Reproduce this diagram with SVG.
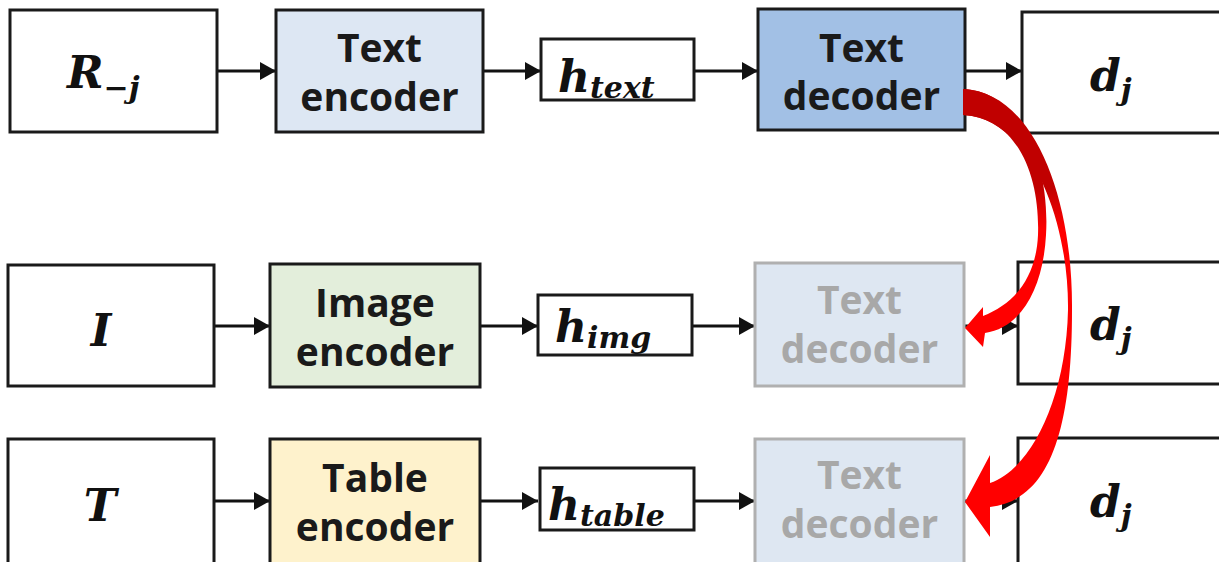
<svg xmlns="http://www.w3.org/2000/svg" width="1219" height="562" viewBox="0 0 1219 562">
<defs>
<style>
.box{stroke:#1a1a1a;stroke-width:3}
.w{fill:#ffffff}
.lbl{font-family:"Open Sans","Noto Sans",sans-serif;font-weight:700;font-size:39px;fill:#1a1a1a;text-anchor:middle}
.fade{fill:#dee7f2;stroke:#b0b0b0;stroke-width:3}
.fadet{fill:#a8a8a8}
.m{font-family:"DejaVu Serif",serif;font-weight:700;font-style:italic;font-size:44px;fill:#111}
.s{font-size:30px}
.c{stroke:#111;stroke-width:3;fill:none;marker-end:url(#ah)}
</style>
<marker id="ah" markerUnits="userSpaceOnUse" markerWidth="18" markerHeight="18" refX="16" refY="9" orient="auto">
<path d="M0,0 L16,9 L0,18 Z" fill="#111"/>
</marker>
<linearGradient id="rg" gradientUnits="userSpaceOnUse" x1="0" y1="89" x2="0" y2="560">
<stop offset="0" stop-color="#c00000"/>
<stop offset="0.21" stop-color="#c00000"/>
<stop offset="0.30" stop-color="#ff0000"/>
<stop offset="1" stop-color="#ff0000"/>
</linearGradient>
</defs>
<rect width="1219" height="562" fill="#ffffff"/>

<g id="connectors">
<line class="c" x1="217" y1="71" x2="276" y2="71"/>
<line class="c" x1="483" y1="71" x2="541" y2="71"/>
<line class="c" x1="694" y1="71" x2="758" y2="71"/>
<line class="c" x1="965" y1="71" x2="1022" y2="71"/>
<line class="c" x1="214" y1="326" x2="270" y2="326"/>
<line class="c" x1="480" y1="326" x2="538" y2="326"/>
<line class="c" x1="692" y1="326" x2="755" y2="326"/>
<line class="c" x1="964" y1="326" x2="1018" y2="326"/>
<line class="c" x1="214" y1="501" x2="270" y2="501"/>
<line class="c" x1="480" y1="501" x2="538" y2="501"/>
<line class="c" x1="694" y1="501" x2="755" y2="501"/>
<line class="c" x1="964" y1="501" x2="1018" y2="501"/>
</g>

<g id="n-r"><rect class="box w" x="10" y="10" width="207" height="122"/>
<text class="m" x="67" y="88">R<tspan class="s" dy="10">−j</tspan></text></g>
<g id="n-textenc"><rect class="box" fill="#dde7f3" x="276" y="10" width="207" height="122"/>
<text class="lbl" x="379.5" y="62">Text</text><text class="lbl" x="379.5" y="111">encoder</text></g>
<g id="n-htext"><rect class="box w" x="541" y="39" width="153" height="61"/>
<text class="m" x="558" y="92">h<tspan class="s" dy="6">text</tspan></text></g>
<g id="n-textdec"><rect class="box" fill="#a2c0e5" x="758" y="9" width="207" height="121"/>
<text class="lbl" x="861.5" y="62">Text</text><text class="lbl" x="861.5" y="110">decoder</text></g>
<g id="n-d1"><rect class="box w" x="1022" y="12" width="205" height="121"/>
<text class="m" x="1090" y="91">d<tspan class="s" dy="9">j</tspan></text></g>

<g id="n-i"><rect class="box w" x="8" y="265" width="206" height="121"/>
<text class="m" x="101" y="346" text-anchor="middle">I</text></g>
<g id="n-imgenc"><rect class="box" fill="#e3eedb" x="270" y="264" width="210" height="123"/>
<text class="lbl" x="375" y="317">Image</text><text class="lbl" x="375" y="366">encoder</text></g>
<g id="n-himg"><rect class="box w" x="538" y="295" width="154" height="60"/>
<text class="m" x="555" y="342">h<tspan class="s" dy="6">img</tspan></text></g>
<g id="n-dec2"><rect class="fade" x="755" y="263" width="209" height="123"/>
<text class="lbl fadet" x="859.5" y="314">Text</text><text class="lbl fadet" x="859.5" y="363">decoder</text></g>
<g id="n-d2"><rect class="box w" x="1018" y="262" width="209" height="122"/>
<text class="m" x="1090" y="340">d<tspan class="s" dy="9">j</tspan></text></g>

<g id="n-t"><rect class="box w" x="8" y="439" width="206" height="130"/>
<text class="m" x="100" y="521" text-anchor="middle">T</text></g>
<g id="n-tabenc"><rect class="box" fill="#fef2cc" x="270" y="439" width="210" height="130"/>
<text class="lbl" x="375" y="492">Table</text><text class="lbl" x="375" y="541">encoder</text></g>
<g id="n-htable"><rect class="box w" x="540" y="468" width="154" height="62"/>
<text class="m" x="548" y="520">h<tspan class="s" dy="6">table</tspan></text></g>
<g id="n-dec3"><rect class="fade" x="755" y="439" width="209" height="130"/>
<text class="lbl fadet" x="859.5" y="489">Text</text><text class="lbl fadet" x="859.5" y="538">decoder</text></g>
<g id="n-d3"><rect class="box w" x="1018" y="438" width="209" height="130"/>
<text class="m" x="1090" y="517">d<tspan class="s" dy="9">j</tspan></text></g>

<g id="red-arrows" fill="url(#rg)">
<path d="M963,89 C1035,92 1073,200 1072,310 C1072,430 1050,500 990,507 L990,537 L965,502 L990,455 L990,483 C1030,470 1066,400 1068,310 C1069,220 1030,118 963,115 Z"/>
<path d="M963,89 C1025,92 1050,170 1046,235 C1043,290 1020,328 985,333 L983,347 L965,328 L983,307 L983,316 C1012,305 1036,280 1038,235 C1040,180 1020,118 963,115 Z"/>
</g>
</svg>
